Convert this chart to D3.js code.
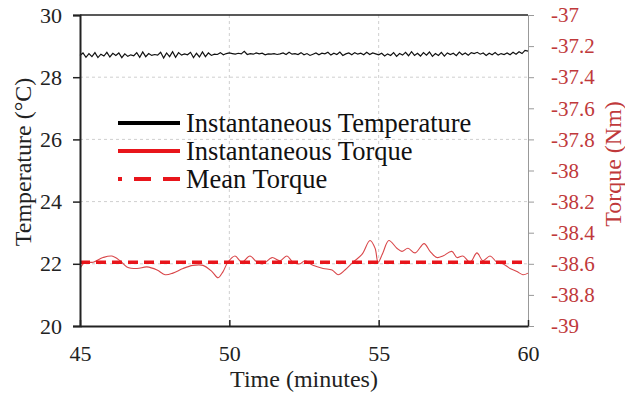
<!DOCTYPE html>
<html>
<head>
<meta charset="utf-8">
<script src="https://cdn.jsdelivr.net/npm/d3@7"></script>
<style>
  body { margin: 0; background: #fff; }
</style>
</head>
<body>
<svg id="chart" width="625" height="396"></svg>
<script>
// Data
const tempStart = 45;      // minutes
const tempStep = 0.1;      // minutes between temperature samples
const temperature = [
  28.70, 28.78, 28.64, 28.76, 28.66, 28.79, 28.63, 28.74, 28.68, 28.80,
  28.65, 28.77, 28.70, 28.78, 28.63, 28.75, 28.67, 28.72, 28.69, 28.79,
  28.64, 28.81, 28.66, 28.76, 28.70, 28.73, 28.71, 28.80, 28.62, 28.78,
  28.66, 28.82, 28.64, 28.79, 28.71, 28.75, 28.72, 28.80, 28.63, 28.77,
  28.65, 28.81, 28.66, 28.78, 28.70, 28.74, 28.73, 28.79, 28.72, 28.76,
  28.78, 28.76, 28.74, 28.77, 28.75, 28.83, 28.73, 28.76, 28.74, 28.78,
  28.75, 28.77, 28.72, 28.75, 28.74, 28.76, 28.73, 28.75, 28.78, 28.73,
  28.80, 28.74, 28.76, 28.73, 28.79, 28.72, 28.76, 28.70, 28.74, 28.78,
  28.72, 28.77, 28.75, 28.80, 28.71, 28.77, 28.73, 28.81, 28.70, 28.75,
  28.78, 28.72, 28.79, 28.74, 28.77, 28.72, 28.80, 28.73, 28.78, 28.75,
  28.72, 28.77, 28.68, 28.75, 28.70, 28.79, 28.67, 28.76, 28.71, 28.80,
  28.69, 28.82, 28.70, 28.77, 28.68, 28.79, 28.71, 28.81, 28.67, 28.76,
  28.70, 28.80, 28.68, 28.78, 28.73, 28.77, 28.69, 28.81, 28.72, 28.78,
  28.71, 28.79, 28.76, 28.80, 28.74, 28.78, 28.70, 28.77, 28.72, 28.79,
  28.71, 28.76, 28.73, 28.78, 28.72, 28.80, 28.74, 28.82, 28.76, 28.86,
  28.84
];

const torqueTime = [
  45.00, 45.17, 45.44, 45.77, 46.07, 46.34, 46.57, 46.91, 47.24, 47.58,
  47.85, 48.11, 48.45, 48.78, 49.12, 49.42, 49.62, 49.79, 49.95, 50.19,
  50.42, 50.69, 50.93, 51.13, 51.43, 51.70, 51.93, 52.13, 52.37, 52.53,
  52.80, 53.14, 53.44, 53.64, 53.87, 54.14, 54.44, 54.71, 54.88, 54.98,
  55.14, 55.34, 55.61, 55.78, 55.98, 56.22, 56.52, 56.72, 56.95, 57.15,
  57.45, 57.62, 57.82, 58.06, 58.29, 58.49, 58.73, 58.96, 59.16, 59.40,
  59.63, 59.83, 60.00
];
const torque = [
  -38.63, -38.59, -38.59, -38.56, -38.55, -38.58, -38.62, -38.63, -38.62, -38.64,
  -38.67, -38.66, -38.63, -38.61, -38.61, -38.65, -38.69, -38.65, -38.59, -38.55,
  -38.59, -38.55, -38.59, -38.60, -38.56, -38.58, -38.55, -38.59, -38.60, -38.58,
  -38.61, -38.63, -38.64, -38.67, -38.64, -38.59, -38.54, -38.45, -38.50, -38.59,
  -38.53, -38.45, -38.50, -38.52, -38.50, -38.53, -38.47, -38.52, -38.56, -38.55,
  -38.52, -38.56, -38.55, -38.59, -38.53, -38.58, -38.55, -38.59, -38.60, -38.63,
  -38.65, -38.67, -38.66
];
const meanTorque = -38.59;

const xTicks = [45, 50, 55, 60];
const tempTicks = [20, 22, 24, 26, 28, 30];
const torqueTicks = [-37, -37.2, -37.4, -37.6, -37.8, -38, -38.2, -38.4, -38.6, -38.8, -39];

const legendLabels = ["Instantaneous Temperature", "Instantaneous Torque", "Mean Torque"];

// Layout
const margin = { left: 80, right: 97, top: 15, bottom: 70 };
const width = 625, height = 396;
const font = "'Liberation Serif', 'Times New Roman', serif";
const red = "#e8151b";
const axisRed = "#c0393b";

const svg = d3.select("#chart").style("font-family", font);

const x = d3.scaleLinear().domain([45, 60]).range([margin.left, width - margin.right]);
const yT = d3.scaleLinear().domain([20, 30]).range([height - margin.bottom, margin.top]);
const yQ = d3.scaleLinear().domain([-39, -37]).range([height - margin.bottom, margin.top]);

// axis text: drop d3's sans-serif default and use the serif face
function styleAxis(g, color, size) {
  g.attr("font-family", null).attr("font-size", null);
  g.selectAll("text")
    .attr("fill", color)
    .style("font-family", font)
    .style("font-size", size + "px");
}

// grid lines
const grid = svg.append("g").attr("stroke", "#cfcfcf").attr("stroke-dasharray", "3,3").attr("stroke-width", 1);
grid.selectAll("line.h").data(tempTicks.slice(1, -1)).enter().append("line")
  .attr("x1", x(45)).attr("x2", x(60))
  .attr("y1", d => yT(d)).attr("y2", d => yT(d));
grid.selectAll("line.v").data(xTicks.slice(1, -1)).enter().append("line")
  .attr("x1", d => x(d)).attr("x2", d => x(d))
  .attr("y1", yT(30)).attr("y2", yT(20));

// top border
svg.append("line")
  .attr("x1", x(45)).attr("x2", x(60)).attr("y1", yT(30)).attr("y2", yT(30))
  .attr("stroke", "#222").attr("stroke-width", 1.5);

// right axis (torque), plain hyphen for the minus sign
const rightAxis = svg.append("g")
  .attr("transform", `translate(${x(60)},0)`)
  .call(d3.axisRight(yQ).tickValues(torqueTicks).tickSize(6).tickPadding(17).tickFormat(d => String(d)));
rightAxis.select(".domain").attr("stroke", "#999");
rightAxis.selectAll(".tick line").attr("stroke", "#999");
styleAxis(rightAxis, axisRed, 21);

// temperature line
const tempLine = d3.line()
  .x((d, i) => x(tempStart + i * tempStep))
  .y(d => yT(d));
svg.append("path").datum(temperature)
  .attr("d", tempLine)
  .attr("fill", "none").attr("stroke", "#111").attr("stroke-width", 1.2);

// torque line
const torqueLine = d3.line()
  .x((d, i) => x(torqueTime[i]))
  .y(d => yQ(d))
  .curve(d3.curveCatmullRom);
svg.append("path").datum(torque)
  .attr("d", torqueLine)
  .attr("fill", "none").attr("stroke", "#d9474a").attr("stroke-width", 1.1);

// mean torque
svg.append("line")
  .attr("x1", x(45)).attr("x2", x(60))
  .attr("y1", yQ(meanTorque)).attr("y2", yQ(meanTorque))
  .attr("stroke", red).attr("stroke-width", 3.5).attr("stroke-dasharray", "10,6");

// left axis
const leftAxis = svg.append("g")
  .attr("transform", `translate(${x(45)},0)`)
  .call(d3.axisLeft(yT).tickValues(tempTicks).tickSize(7).tickPadding(11));
leftAxis.select(".domain").attr("stroke", "#222").attr("stroke-width", 2);
leftAxis.selectAll(".tick line").attr("stroke", "#222").attr("stroke-width", 1.5);
styleAxis(leftAxis, "#222", 22);

// bottom axis
const bottomAxis = svg.append("g")
  .attr("transform", `translate(0,${yT(20)})`)
  .call(d3.axisBottom(x).tickValues(xTicks).tickSizeInner(-6).tickSizeOuter(0).tickPadding(19));
bottomAxis.select(".domain").attr("stroke", "#222").attr("stroke-width", 2);
bottomAxis.selectAll(".tick line").attr("stroke", "#222").attr("stroke-width", 1.5);
styleAxis(bottomAxis, "#222", 22);

// axis titles
svg.append("text")
  .attr("x", (x(45) + x(60)) / 2).attr("y", 387)
  .attr("text-anchor", "middle").style("font-size", "24px").attr("fill", "#222")
  .text("Time (minutes)");
svg.append("text")
  .attr("transform", "translate(31,162) rotate(-90)")
  .attr("text-anchor", "middle").style("font-size", "24px").attr("fill", "#222")
  .text("Temperature (°C)");
svg.append("text")
  .attr("transform", "translate(621,164) rotate(-90)")
  .attr("text-anchor", "middle").style("font-size", "24px").attr("fill", axisRed)
  .text("Torque (Nm)");

// legend
const legendY = [123, 151, 179];
const items = svg.append("g").selectAll("g").data(legendLabels).enter().append("g")
  .attr("transform", (d, i) => `translate(118,${legendY[i]})`);
items.append("line")
  .attr("x1", 0).attr("x2", 62)
  .attr("stroke", (d, i) => i === 0 ? "#000" : red)
  .attr("stroke-width", 4)
  .attr("stroke-dasharray", (d, i) => i === 2 ? "17,12" : null)
  .attr("stroke-dashoffset", (d, i) => i === 2 ? 13 : null);
items.append("text")
  .attr("x", 68).attr("y", 9)
  .style("font-size", "26.5px").attr("fill", "#111")
  .text(d => d);
</script>
</body>
</html>
